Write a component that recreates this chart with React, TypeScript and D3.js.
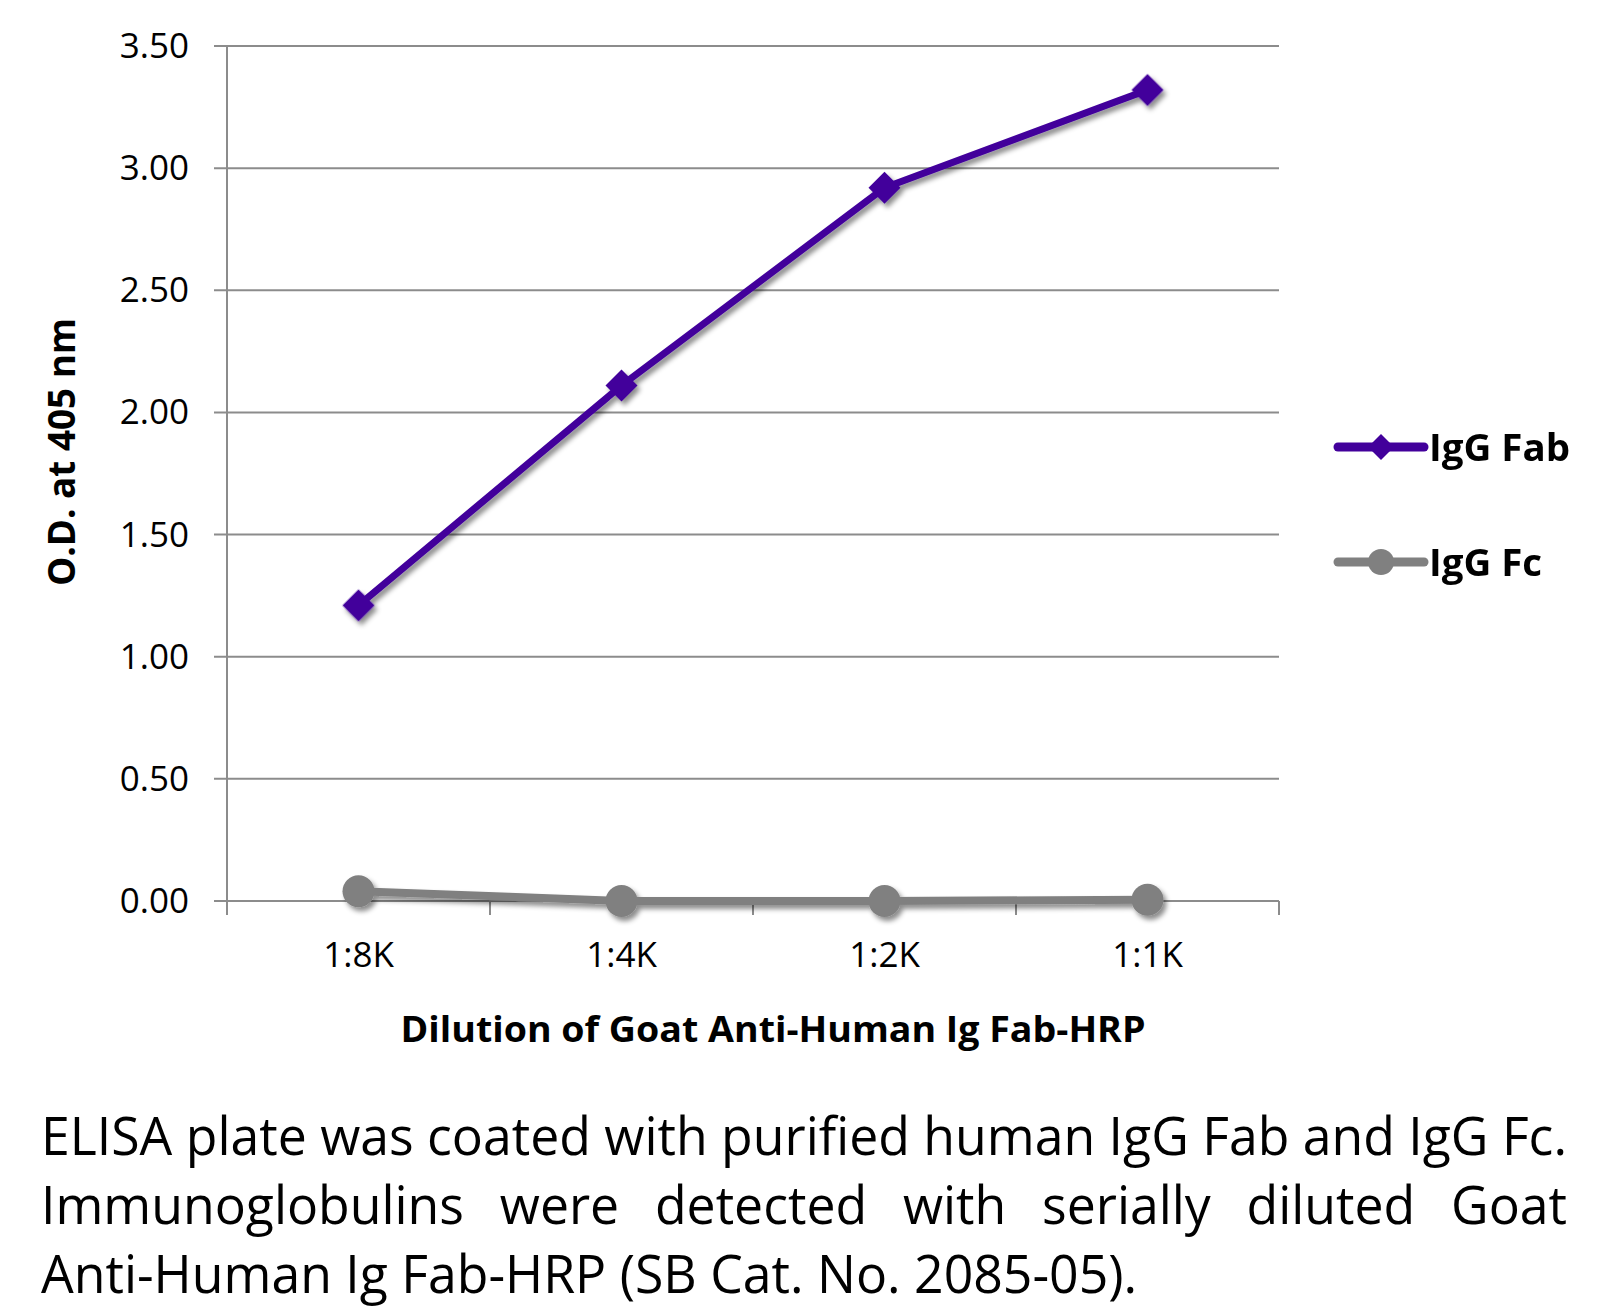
import React, { useEffect, useRef } from "react";
import * as d3 from "d3";

const categories = ["1:8K", "1:4K", "1:2K", "1:1K"];
const fabValues = [1.21, 2.11, 2.92, 3.32];
const fcValues = [0.04, 0.0, 0.0, 0.005];
const yTicks = [0, 0.5, 1, 1.5, 2, 2.5, 3, 3.5];
const seriesNames = ["IgG Fab", "IgG Fc"];
const xTitle = "Dilution of Goat Anti-Human Ig Fab-HRP";
const yTitle = "O.D. at 405 nm";
const captionLines = [
  "ELISA plate was coated with purified human IgG Fab and IgG Fc.",
  "Immunoglobulins were detected with serially diluted Goat",
  "Anti-Human Ig Fab-HRP (SB Cat. No. 2085-05).",
];

const FONT = "'Open Sans', 'DejaVu Sans', sans-serif";
const PURPLE = "#42009b";
const GRAY = "#808080";
const GRID = "#8c8c8c";

export default function App() {
  const ref = useRef<SVGSVGElement>(null);

  useEffect(() => {
    const draw = () => {
      const svg = d3.select(ref.current);
      svg.selectAll("*").remove();

      const defs = svg.append("defs");
      const f = defs
        .append("filter")
        .attr("id", "shadow")
        .attr("x", "-20%")
        .attr("y", "-20%")
        .attr("width", "140%")
        .attr("height", "140%");
      f.append("feDropShadow")
        .attr("dx", 3)
        .attr("dy", 4)
        .attr("stdDeviation", 2.5)
        .attr("flood-color", "#000")
        .attr("flood-opacity", 0.45);

      const left = 227,
        right = 1279,
        top = 46,
        bottom = 901;
      const x = d3.scaleBand<string>().domain(categories).range([left, right]).padding(0);
      const cx = (c: string) => (x(c) as number) + x.bandwidth() / 2;
      const y = d3.scaleLinear().domain([0, 3.5]).range([bottom, top]);

      // gridlines
      const g = svg.append("g");
      g.selectAll("line.grid")
        .data(yTicks)
        .join("line")
        .attr("x1", left - 13)
        .attr("x2", right)
        .attr("y1", (d) => y(d))
        .attr("y2", (d) => y(d))
        .attr("stroke", GRID)
        .attr("stroke-width", 2);
      // y axis line
      g.append("line")
        .attr("x1", left)
        .attr("x2", left)
        .attr("y1", top)
        .attr("y2", bottom + 14)
        .attr("stroke", GRID)
        .attr("stroke-width", 2);
      // x ticks at band boundaries
      const bounds = categories.map((c) => (x(c) as number) + x.bandwidth()).concat([]);
      g.selectAll("line.xt")
        .data(bounds)
        .join("line")
        .attr("x1", (d) => d)
        .attr("x2", (d) => d)
        .attr("y1", bottom)
        .attr("y2", bottom + 14)
        .attr("stroke", GRID)
        .attr("stroke-width", 2);

      // y tick labels
      g.selectAll("text.yl")
        .data(yTicks)
        .join("text")
        .attr("x", 189)
        .attr("y", (d) => y(d) + 12)
        .attr("text-anchor", "end")
        .attr("font-family", FONT)
        .attr("font-size", 35)
        .attr("fill", "#000")
        .text((d) => d3.format(".2f")(d));

      // x tick labels
      g.selectAll("text.xl")
        .data(categories)
        .join("text")
        .attr("x", (d) => cx(d))
        .attr("y", 967)
        .attr("text-anchor", "middle")
        .attr("font-family", FONT)
        .attr("font-size", 35)
        .attr("fill", "#000")
        .text((d) => d);

      // axis titles
      svg
        .append("text")
        .attr("x", 773)
        .attr("y", 1042)
        .attr("text-anchor", "middle")
        .attr("font-family", FONT)
        .attr("font-weight", "bold")
        .attr("font-size", 36)
        .attr("textLength", 745)
        .attr("lengthAdjust", "spacingAndGlyphs")
        .text(xTitle);
      svg
        .append("text")
        .attr("transform", "translate(75,452) rotate(-90)")
        .attr("text-anchor", "middle")
        .attr("font-family", FONT)
        .attr("font-weight", "bold")
        .attr("font-size", 37)
        .attr("textLength", 268)
        .attr("lengthAdjust", "spacingAndGlyphs")
        .text(yTitle);

      const diamond = (size: number) => d3.symbol(d3.symbolSquare, size)();

      // series Fab
      const lineGen = d3
        .line<number>()
        .x((_, i) => cx(categories[i]))
        .y((d) => y(d));
      const sFab = svg.append("g").attr("filter", "url(#shadow)");
      sFab
        .append("path")
        .attr("d", lineGen(fabValues))
        .attr("fill", "none")
        .attr("stroke", PURPLE)
        .attr("stroke-width", 7)
        .attr("stroke-linejoin", "round");
      sFab
        .selectAll("path.m")
        .data(fabValues)
        .join("path")
        .attr("d", diamond(512))
        .attr("transform", (d, i) => `translate(${cx(categories[i])},${y(d)}) rotate(45)`)
        .attr("fill", PURPLE);

      // series Fc
      const sFc = svg.append("g").attr("filter", "url(#shadow)");
      sFc
        .append("path")
        .attr("d", lineGen(fcValues))
        .attr("fill", "none")
        .attr("stroke", GRAY)
        .attr("stroke-width", 8)
        .attr("stroke-linejoin", "round");
      sFc
        .selectAll("circle")
        .data(fcValues)
        .join("circle")
        .attr("cx", (_, i) => cx(categories[i]))
        .attr("cy", (d) => y(d))
        .attr("r", 16)
        .attr("fill", GRAY);

      // legend
      const legendY = [447, 562];
      const legendW = [141, 113];
      const colors = [PURPLE, GRAY];
      seriesNames.forEach((name, i) => {
        const lg = svg.append("g");
        lg.append("line")
          .attr("x1", 1338)
          .attr("x2", 1424)
          .attr("y1", legendY[i])
          .attr("y2", legendY[i])
          .attr("stroke", colors[i])
          .attr("stroke-width", 9)
          .attr("stroke-linecap", "round");
        if (i === 0) {
          lg.append("path")
            .attr("d", diamond(340))
            .attr("transform", `translate(1381,${legendY[i]}) rotate(45)`)
            .attr("fill", colors[i]);
        } else {
          lg.append("circle").attr("cx", 1381).attr("cy", legendY[i]).attr("r", 13).attr("fill", colors[i]);
        }
        lg.append("text")
          .attr("x", 1429)
          .attr("y", legendY[i] + 14)
          .attr("font-family", FONT)
          .attr("font-weight", "bold")
          .attr("font-size", 37)
          .attr("textLength", legendW[i])
          .attr("lengthAdjust", "spacingAndGlyphs")
          .text(name);
      });

      // caption
      const capX = 41;
      const capW = 1526;
      const capBase = [1155, 1224, 1293];
      const capSize = 53;
      const mk = (t: string, xx: number, yy: number) =>
        svg
          .append("text")
          .attr("x", xx)
          .attr("y", yy)
          .attr("font-family", FONT)
          .attr("font-size", capSize)
          .attr("fill", "#000")
          .text(t);
      const l1 = mk(captionLines[0], capX, capBase[0]);
      const nat1 = (l1.node() as SVGTextElement).getComputedTextLength();
      const r = capW / nat1;
      l1.attr("textLength", capW).attr("lengthAdjust", "spacingAndGlyphs");

      const words = captionLines[1].split(" ");
      const wEls = words.map((w) => mk(w, capX, capBase[1]));
      const widths = wEls.map((el) => (el.node() as SVGTextElement).getComputedTextLength() * r);
      const total = d3.sum(widths);
      const gap = (capW - total) / (words.length - 1);
      let cur = capX;
      wEls.forEach((el, i) => {
        el.attr("x", cur).attr("textLength", widths[i]).attr("lengthAdjust", "spacingAndGlyphs");
        cur += widths[i] + gap;
      });

      const l3 = mk(captionLines[2], capX, capBase[2]);
      const nat3 = (l3.node() as SVGTextElement).getComputedTextLength();
      l3.attr("textLength", nat3 * r).attr("lengthAdjust", "spacingAndGlyphs");
    };
    draw();
    if ((document as any).fonts && (document as any).fonts.ready) {
      (document as any).fonts.ready.then(draw);
    }
  }, []);

  return (
    <div style={{ position: "absolute", left: 0, top: 0, background: "#fff" }}>
      <svg ref={ref} width={1618} height={1308} style={{ display: "block", background: "#fff" }} />
    </div>
  );
}
